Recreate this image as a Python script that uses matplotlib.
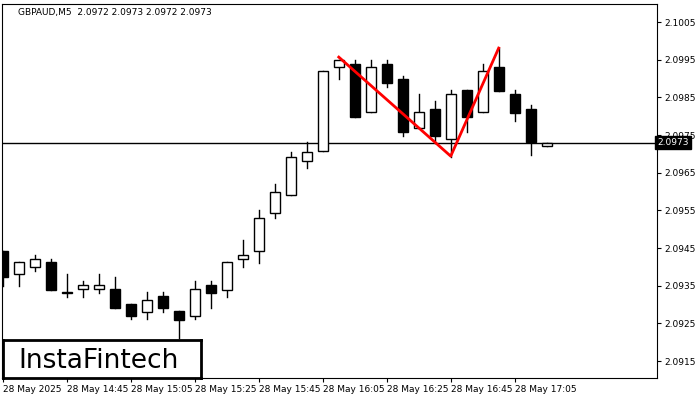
import matplotlib
matplotlib.use("Agg")
import matplotlib.pyplot as plt
from matplotlib.patches import Rectangle

opens  = [2.09443,2.09380,2.09400,2.09412,2.09332,2.09340,2.09340,2.09341,2.09301,2.09281,
          2.09323,2.09283,2.09270,2.09351,2.09339,2.09420,2.09441,2.09542,2.09590,2.09681,
          2.09709,2.09930,2.09940,2.09810,2.09940,2.09900,2.09770,2.09818,2.09739,2.09869,
          2.09810,2.09930,2.09858,2.09818,2.09720]
highs  = [2.09443,2.09412,2.09431,2.09421,2.09381,2.09362,2.09380,2.09373,2.09301,2.09333,
          2.09333,2.09283,2.09362,2.09362,2.09412,2.09471,2.09551,2.09620,2.09705,2.09731,
          2.09919,2.09950,2.09948,2.09948,2.09948,2.09908,2.09859,2.09840,2.09869,2.09869,
          2.09940,2.09980,2.09869,2.09829,2.09730]
lows   = [2.09350,2.09350,2.09390,2.09339,2.09321,2.09321,2.09331,2.09291,2.09261,2.09261,
          2.09281,2.09212,2.09261,2.09291,2.09321,2.09400,2.09411,2.09530,2.09590,2.09662,
          2.09709,2.09900,2.09799,2.09810,2.09878,2.09747,2.09770,2.09730,2.09692,2.09759,
          2.09810,2.09868,2.09788,2.09697,2.09720]
closes = [2.09372,2.09412,2.09420,2.09339,2.09332,2.09351,2.09351,2.09291,2.09270,2.09311,
          2.09291,2.09260,2.09341,2.09331,2.09412,2.09431,2.09531,2.09600,2.09692,2.09705,
          2.09919,2.09948,2.09799,2.09930,2.09889,2.09759,2.09810,2.09747,2.09858,2.09799,
          2.09919,2.09868,2.09809,2.09731,2.09730]
pattern_idx = [21, 28, 31]
pattern_px = [2.09957, 2.09694, 2.09981]
current_price = 2.0973
time_labels = ["28 May 2025","28 May 14:45","28 May 15:05","28 May 15:25","28 May 15:45",
               "28 May 16:05","28 May 16:25","28 May 16:45","28 May 17:05"]
time_label_idx = [0,4,8,12,16,20,24,28,32]
yticks = [2.0915,2.0925,2.0935,2.0945,2.0955,2.0965,2.0975,2.0985,2.0995,2.1005]
title = "GBPAUD,M5  2.0972 2.0973 2.0972 2.0973"

fig = plt.figure(figsize=(7,4), dpi=100)
ax = fig.add_axes([2/700, 22/400, 655/700, 374/400])
ax.set_xlim(-0.0625, 40.9)
ax.set_ylim(2.09105, 2.10098)

w = 0.62
for i,(o,h,l,c) in enumerate(zip(opens,highs,lows,closes)):
    ax.plot([i,i],[l,h], color="black", lw=1, zorder=2)
    bot, top = min(o,c), max(o,c)
    ht = max(top-bot, 0.000003)
    face = "white" if c >= o else "black"
    ax.add_patch(Rectangle((i-w/2, bot), w, ht, facecolor=face, edgecolor="black", lw=1, zorder=3))

ax.axhline(current_price, color="black", lw=1, zorder=1)
ax.plot(pattern_idx, pattern_px, color="red", lw=2, zorder=4)

ax.yaxis.tick_right()
ax.set_yticks(yticks)
ax.set_yticklabels([f"{v:.4f}" for v in yticks], fontsize=6.5)
ax.set_xticks(time_label_idx)
ax.set_xticklabels(time_labels, fontsize=6.5, ha="left")
ax.tick_params(axis="both", length=3, pad=2, width=0.8)
for s in ax.spines.values():
    s.set_linewidth(0.8)

ax.text(1.0, current_price, f"{current_price:.4f}", transform=ax.get_yaxis_transform(),
        fontsize=6.5, color="white", va="center", ha="left",
        bbox=dict(boxstyle="square,pad=0.25", fc="black", ec="black"), clip_on=False, zorder=10)

fig.text(18/700, 1-12/400, title, fontsize=6.5, va="center", ha="left")

ax.add_patch(Rectangle((3/700*0+0.0, 0), 1, 1, transform=ax.transAxes, fill=False, lw=0))
lax = fig.add_axes([3/700, 22/400, 198/700, 38/400])
lax.set_xticks([]); lax.set_yticks([])
for s in lax.spines.values():
    s.set_linewidth(2)
lax.text(0.08, 0.45, "InstaFintech", fontsize=19, va="center", ha="left", transform=lax.transAxes)

fig.savefig("out.png", dpi=100)
